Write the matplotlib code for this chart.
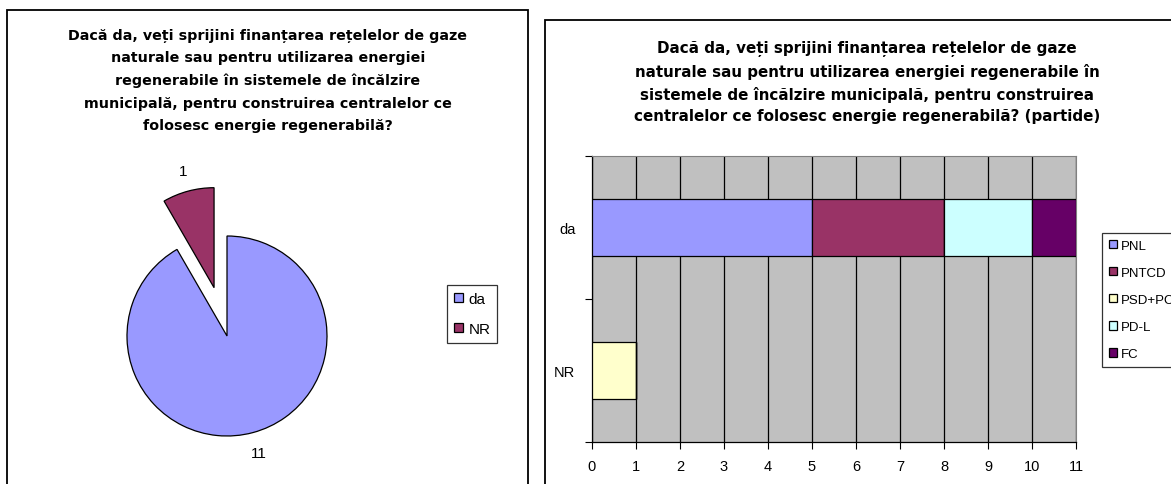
import matplotlib.pyplot as plt
import numpy as np
from matplotlib.patches import Rectangle

plt.rcParams['font.family'] = ['Liberation Sans', 'DejaVu Sans']

# data
pie_labels = ['da', 'NR']
pie_values = [11, 1]
pie_colors = ['#9999FF', '#993366']

categories = ['NR', 'da']          # bottom to top
parties = ['PNL', 'PNTCD', 'PSD+PC', 'PD-L', 'FC']
party_values = {
    'PNL':    [0, 5],
    'PNTCD':  [0, 3],
    'PSD+PC': [1, 0],
    'PD-L':   [0, 2],
    'FC':     [0, 1],
}
party_colors = ['#9999FF', '#993366', '#FFFFCC', '#CCFFFF', '#660066']

title_pie = ('Dacă da, veți sprijini finanțarea rețelelor de gaze\n'
             'naturale sau pentru utilizarea energiei\n'
             'regenerabile în sistemele de încălzire\n'
             'municipală, pentru construirea centralelor ce\n'
             'folosesc energie regenerabilă?')
title_bar = ('Dacă da, veți sprijini finanțarea rețelelor de gaze\n'
             'naturale sau pentru utilizarea energiei regenerabile în\n'
             'sistemele de încălzire municipală, pentru construirea\n'
             'centralelor ce folosesc energie regenerabilă? (partide)')

W, H = 1171, 485
fig = plt.figure(figsize=(W / 100, H / 100), dpi=100)


def box(x0, y0, x1, y1):
    # pixel box (top-left origin) -> figure fraction rect
    return [x0 / W, 1 - y1 / H, (x1 - x0) / W, (y1 - y0) / H]


# panel frames
fig.patches.append(Rectangle((7 / W, -0.1), (528 - 7) / W, 1 - 11 / H + 0.1,
                             transform=fig.transFigure, fill=False,
                             edgecolor='black', linewidth=1.3))
fig.patches.append(Rectangle((545 / W, -0.1), 0.6, 1 - 21 / H + 0.1,
                             transform=fig.transFigure, fill=False,
                             edgecolor='black', linewidth=1.3))

# ---- pie ----
ax1 = fig.add_axes(box(77, 187, 377, 487))
wedges, texts = ax1.pie(pie_values, explode=[0, 0.5], startangle=90,
                        counterclock=False, colors=pie_colors,
                        labels=[str(v) for v in pie_values], labeldistance=1.21,
                        wedgeprops=dict(edgecolor='black', linewidth=0.9),
                        textprops=dict(fontsize=11))
for t in texts:
    t.set_ha('center')
ax1.set_xlim(-1.5, 1.5)
ax1.set_ylim(-1.5, 1.5)
ax1.set_aspect('equal')
leg1 = ax1.legend(wedges, pie_labels, loc='upper left',
                  bbox_to_anchor=(447 / W, 1 - 286 / H), bbox_transform=fig.transFigure,
                  prop=dict(size=11), frameon=True, fancybox=False, edgecolor='black',
                  handlelength=0.6, handleheight=0.6, handletextpad=0.35,
                  labelspacing=1.05, borderpad=0.45, borderaxespad=0)
leg1.get_frame().set_linewidth(0.9)

fig.text(268 / W, 1 - 29 / H, title_pie, ha='center', va='top',
         family='DejaVu Sans', fontsize=10.3, fontweight='bold', linespacing=1.75)

# ---- stacked bars ----
ax2 = fig.add_axes(box(592, 157, 1076, 443))
ax2.set_facecolor('#C0C0C0')
ypos = np.arange(len(categories))
left = np.zeros(len(categories))
for party, col in zip(parties, party_colors):
    vals = np.array(party_values[party])
    ax2.barh(ypos, vals, left=left, height=0.4, color=col,
             edgecolor='black', linewidth=0.9, label=party, zorder=3)
    left += vals

ax2.set_xlim(0, 11)
ax2.set_ylim(-0.5, len(categories) - 0.5)
ax2.set_xticks(range(0, 12))
ax2.xaxis.grid(True, color='black', linewidth=0.9, zorder=1)
ax2.set_axisbelow(True)
ax2.set_yticks(np.arange(-0.5, len(categories)))
ax2.set_yticklabels([])
ax2.set_yticks(ypos, minor=True)
ax2.set_yticklabels(categories, minor=True, fontsize=10.5)
ax2.tick_params(axis='y', which='minor', length=0, pad=12)
ax2.tick_params(axis='y', which='major', length=5, direction='out')
ax2.tick_params(axis='x', length=5, direction='out', pad=7, labelsize=10.5)
for s in ['left', 'bottom']:
    ax2.spines[s].set_linewidth(0.9)
for s in ['top', 'right']:
    ax2.spines[s].set_color('#808080')
    ax2.spines[s].set_linewidth(0.8)

leg2 = ax2.legend(loc='upper left', bbox_to_anchor=(1102 / W, 1 - 234 / H),
                  bbox_transform=fig.transFigure, prop=dict(size=9.5),
                  frameon=True, fancybox=False, edgecolor='black',
                  handlelength=0.6, handleheight=0.6, handletextpad=0.35,
                  labelspacing=1.15, borderpad=0.5, borderaxespad=0)
leg2.get_frame().set_linewidth(0.9)

fig.text(867 / W, 1 - 41 / H, title_bar, ha='center', va='top',
         family='DejaVu Sans', fontsize=10.9, fontweight='bold', linespacing=1.52)

fig.savefig('out.png', dpi=100)
